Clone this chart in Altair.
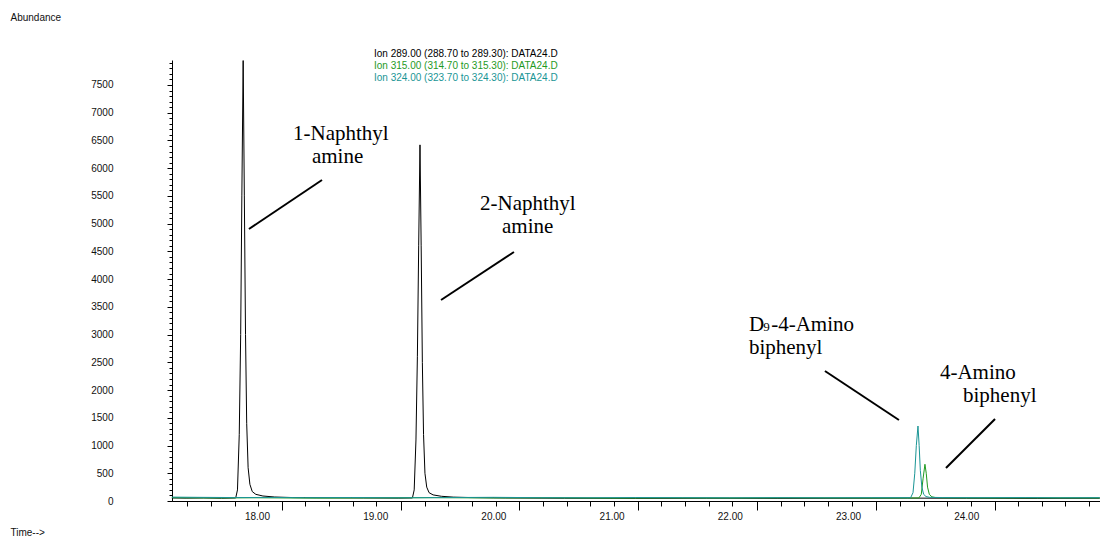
import altair as alt
import pandas as pd

# ---------------- data ----------------
series_names = ["Ion 289.00", "Ion 315.00", "Ion 324.00"]
series_colors = ["#000000", "#1f9a1f", "#1a9595"]

t_289 = [17.28, 17.40, 17.55, 17.70, 17.82, 17.835, 17.85, 17.862, 17.872, 17.883,
         17.893, 17.903, 17.913, 17.925, 17.94, 17.96, 17.99, 18.05, 18.15, 18.30,
         18.60, 18.90, 19.20, 19.315, 19.33, 19.345, 19.357, 19.368, 19.379, 19.389,
         19.399, 19.409, 19.421, 19.436, 19.456, 19.49, 19.56, 19.66, 19.80, 20.10,
         20.60, 21.20, 21.80, 22.40, 23.00, 23.50, 24.00, 24.60, 25.13]
a_289 = [55, 52, 55, 50, 55, 200, 1200, 3000, 5500, 7940,
         5500, 3000, 1400, 600, 300, 170, 120, 90, 72, 62,
         58, 55, 52, 55, 200, 1100, 2600, 4600, 6420, 4600,
         2500, 1200, 500, 250, 150, 110, 85, 70, 62, 55,
         50, 48, 50, 48, 50, 52, 50, 48, 50]

t_315 = [17.28, 17.60, 18.00, 18.50, 19.00, 19.50, 20.00, 20.50, 21.00, 21.50,
         22.00, 22.50, 23.00, 23.40, 23.60, 23.62, 23.635, 23.651, 23.662, 23.673,
         23.688, 23.71, 23.74, 23.80, 24.20, 24.60, 25.13]
a_315 = [60, 55, 58, 52, 56, 60, 55, 58, 52, 56,
         54, 58, 55, 54, 55, 120, 400, 662, 500, 250,
         120, 75, 62, 58, 55, 57, 55]

t_324 = [17.28, 17.50, 17.80, 18.10, 18.40, 18.80, 19.20, 19.60, 20.00, 20.40,
         20.80, 21.20, 21.60, 22.00, 22.40, 22.80, 23.20, 23.53, 23.55, 23.565,
         23.578, 23.592, 23.602, 23.612, 23.625, 23.64, 23.66, 23.69, 23.80, 24.10,
         24.50, 24.80, 25.13]
a_324 = [70, 66, 62, 64, 60, 63, 58, 62, 66, 60,
         58, 62, 60, 57, 60, 58, 60, 60, 150, 500,
         1000, 1352, 1000, 550, 250, 120, 80, 66, 62, 60,
         62, 58, 60]

ion_text = ["Ion 289.00 (288.70 to 289.30): DATA24.D",
            "Ion 315.00 (314.70 to 315.30): DATA24.D",
            "Ion 324.00 (323.70 to 324.30): DATA24.D"]
ion_t = [18.99, 18.99, 18.99]
ion_a = [8058, 7842, 7625]

label_text = ["1-Naphthyl", "amine", "2-Naphthyl", "amine",
              "D", "-4-Amino", "biphenyl", "4-Amino", "biphenyl"]
label_t = [18.305, 18.465, 19.887, 20.073, 22.162, 22.350, 22.162, 23.778, 23.973]
label_a = [6508, 6093, 5246, 4831, 3065, 3065, 2650, 2199, 1785]

sub_text = ["9"]
sub_t = [22.282]
sub_a = [3065]

ptr_t1 = [17.932, 19.557, 22.805, 23.829]
ptr_a1 = [4904, 3624, 2344, 595]
ptr_t2 = [18.550, 20.174, 23.431, 24.244]
ptr_a2 = [5787, 4489, 1460, 1478]

x_labels = [18, 19, 20, 21, 22, 23, 24]
x_major = [18.21, 19.22, 20.22, 21.22, 22.23, 23.24, 24.24]
x_minor = [17.41, 17.61, 17.81, 18.01,
           18.41, 18.61, 18.81, 19.01,
           19.42, 19.62, 19.82, 20.02,
           20.42, 20.62, 20.82, 21.02,
           21.42, 21.62, 21.82, 22.02,
           22.43, 22.63, 22.83, 23.03,
           23.44, 23.64, 23.84, 24.04,
           24.44, 24.64, 24.84, 25.04]
y_labels = list(range(0, 8000, 500))
y_minor = list(range(0, 8000, 100))

# ---------------- tables ----------------
rows = []
for name, ts, vs in [(series_names[0], t_289, a_289),
                     (series_names[1], t_315, a_315),
                     (series_names[2], t_324, a_324)]:
    for t, v in zip(ts, vs):
        rows.append({"series": name, "t": t, "a": v})
traces = pd.DataFrame(rows)

ion_df = pd.DataFrame({"series": series_names, "text": ion_text, "t": ion_t, "a": ion_a})
lab_df = pd.DataFrame({"text": label_text, "t": label_t, "a": label_a})
sub_df = pd.DataFrame({"text": sub_text, "t": sub_t, "a": sub_a})
ptr_df = pd.DataFrame({"t1": ptr_t1, "a1": ptr_a1, "t2": ptr_t2, "a2": ptr_a2})

SANS = "Liberation Sans"
SERIF = "Liberation Serif"

x_scale = alt.Scale(domain=[17.281, 25.132], nice=False, zero=False)
y_scale = alt.Scale(domain=[0, 7950], nice=False, zero=False)
c_scale = alt.Scale(domain=series_names, range=series_colors)

lines = alt.Chart(traces).mark_line(strokeWidth=1).encode(
    x=alt.X("t:Q", scale=x_scale, axis=alt.Axis(
        orient="bottom", values=x_labels, format=".2f", ticks=False, tickSize=0,
        labelPadding=10, labelFont=SANS, labelFontSize=10, labelColor="#111111",
        labelFlush=False, labelOverlap=False, grid=False,
        domain=True, domainColor="black", domainWidth=1,
        title="Time-->", titleX=-162, titleY=31, titleAlign="left",
        titleBaseline="middle", titleFont=SANS, titleFontSize=10,
        titleFontWeight="normal", titleColor="#111111")),
    y=alt.Y("a:Q", scale=y_scale, axis=alt.Axis(
        orient="left", values=y_labels, format="d", tickSize=5, tickColor="black",
        labelPadding=54, labelFont=SANS, labelFontSize=10, labelColor="#111111",
        labelFlush=False, labelOverlap=False, grid=False,
        domain=True, domainColor="black", domainWidth=1,
        title="Abundance", titleAngle=0, titleX=-162, titleY=-43,
        titleAlign="left", titleBaseline="middle", titleFont=SANS,
        titleFontSize=10, titleFontWeight="normal", titleColor="#111111")),
    color=alt.Color("series:N", scale=c_scale, legend=None),
)

pointers = alt.Chart(ptr_df).mark_rule(strokeWidth=2, color="black").encode(
    x=alt.X("t1:Q", scale=x_scale, axis=alt.Axis(
        orient="bottom", values=x_minor, tickSize=5, tickColor="black",
        labels=False, domain=False, grid=False, title=None)),
    y=alt.Y("a1:Q", scale=y_scale, axis=alt.Axis(
        orient="left", values=y_minor, tickSize=3, tickColor="black",
        labels=False, domain=False, grid=False, title=None)),
    x2="t2:Q",
    y2="a2:Q",
)

labels = alt.Chart(lab_df).mark_text(
    font=SERIF, fontSize=21, align="left", baseline="alphabetic", color="black"
).encode(
    x=alt.X("t:Q", scale=x_scale, axis=alt.Axis(
        orient="bottom", values=x_major, tickSize=9, tickColor="black",
        labels=False, domain=False, grid=False, title=None)),
    y=alt.Y("a:Q", scale=y_scale, axis=None),
    text="text:N",
)

subscript = alt.Chart(sub_df).mark_text(
    font=SERIF, fontSize=13, align="left", baseline="alphabetic", color="black"
).encode(
    x=alt.X("t:Q", scale=x_scale, axis=None),
    y=alt.Y("a:Q", scale=y_scale, axis=None),
    text="text:N",
)

ion_legend = alt.Chart(ion_df).mark_text(
    font=SANS, fontSize=10, align="left", baseline="middle"
).encode(
    x=alt.X("t:Q", scale=x_scale, axis=None),
    y=alt.Y("a:Q", scale=y_scale, axis=None),
    text="text:N",
    color=alt.Color("series:N", scale=c_scale, legend=None),
)

chart = alt.layer(lines, pointers, labels, subscript, ion_legend).resolve_axis(
    x="independent", y="independent"
).properties(
    width=928,
    height=441,
    padding={"left": 164, "top": 52, "right": 0, "bottom": 36},
    autosize=alt.AutoSizeParams(type="none"),
    background="white",
).configure_view(stroke=None)

chart.save("out.html", embed_options={"renderer": "svg", "actions": False})
